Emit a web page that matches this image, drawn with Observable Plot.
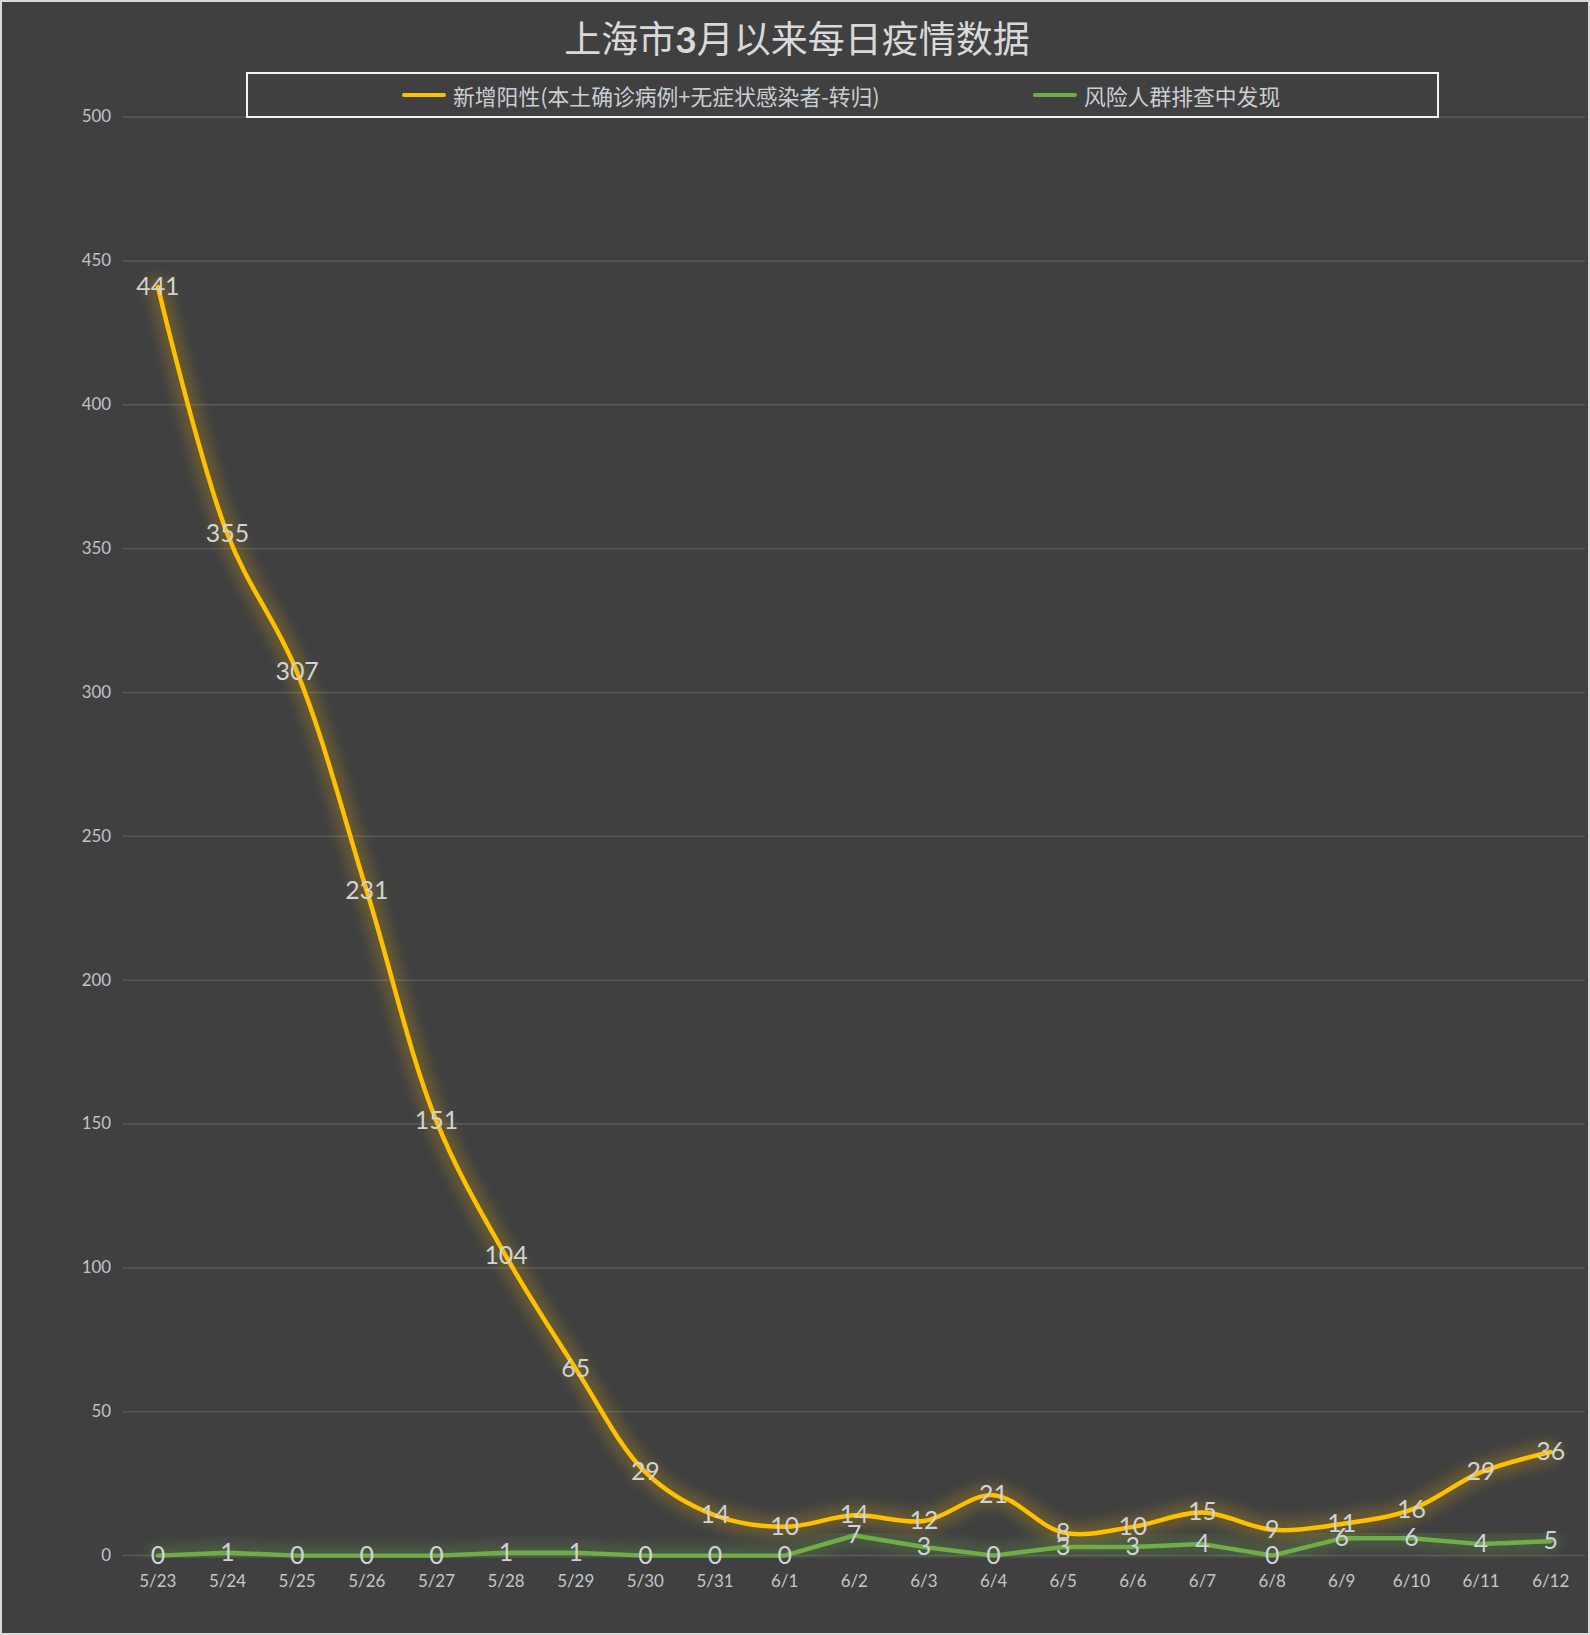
<!DOCTYPE html>
<html>
<head>
<meta charset="utf-8">
<script src="https://cdn.jsdelivr.net/npm/d3@7"></script>
<script src="https://cdn.jsdelivr.net/npm/@observablehq/plot@0.6"></script>
<style>
  html, body { margin: 0; padding: 0; background: #404040; }
  #frame { position: relative; width: 1590px; height: 1635px; box-sizing: border-box; border: 2px solid #d9d9d9; background: #404040; overflow: hidden; font-family: Lato, "Noto Sans CJK SC", sans-serif; }
  #chart { position: absolute; left: -2px; top: -2px; }
  #title { position: absolute; left: 0; width: 1590px; top: 8px; text-align: center; font-family: "Noto Sans CJK SC", sans-serif; font-weight: 400; font-size: 37px; color: #d9d9d9; line-height: 54px; }
  #title b { font-family: Lato, sans-serif; font-weight: 700; }
  #legend { position: absolute; left: 244px; top: 70px; width: 1189px; height: 42px; border: 2px solid #f2f2f2; }
  .item { position: absolute; top: 0; height: 42px; display: flex; align-items: center; font-family: "Noto Sans CJK SC", sans-serif; font-size: 21.8px; color: #c9ced4; }
  .swatch { display: inline-block; width: 44px; height: 4px; margin-right: 7px; border-radius: 2px; }
</style>
</head>
<body>
<div id="frame">
  <div id="chart"></div>
  <div id="title">上海市<b>3</b>月以来每日疫情数据</div>
  <div id="legend"></div>
</div>
<script>
const dates = ["5/23","5/24","5/25","5/26","5/27","5/28","5/29","5/30","5/31","6/1","6/2","6/3","6/4","6/5","6/6","6/7","6/8","6/9","6/10","6/11","6/12"];
const newPositive = [441,355,307,231,151,104,65,29,14,10,14,12,21,8,10,15,9,11,16,29,36];
const riskScreening = [0,1,0,0,0,1,1,0,0,0,7,3,0,3,3,4,0,6,6,4,5];
const yTicks = [0,50,100,150,200,250,300,350,400,450,500];
const seriesNames = ["新增阳性(本土确诊病例+无症状感染者-转归)", "风险人群排查中发现"];
const seriesColors = ["#FFC000", "#70AD47"];

const yellow = dates.map((d, i) => ({date: d, value: newPositive[i]}));
const green = dates.map((d, i) => ({date: d, value: riskScreening[i]}));

const chart = Plot.plot({
  width: 1594,
  height: 1639,
  marginTop: 117,
  marginBottom: 78,
  marginLeft: 123,
  marginRight: 3,
  style: {background: "transparent", fontFamily: "Lato, 'Noto Sans CJK SC', sans-serif", color: "#bfc3c8", overflow: "visible"},
  x: {type: "point", domain: dates, padding: 0.5, round: false, label: null},
  y: {domain: [0, 500], label: null},
  marks: [
    Plot.gridY(yTicks, {stroke: "#5a5a5a", strokeOpacity: 1, strokeWidth: 1.5}),
    Plot.axisY(yTicks, {tickSize: 0, tickPadding: 12, fontSize: 17, fill: "#bfc3c8", label: null}),
    Plot.axisX(dates, {tickSize: 0, tickPadding: 19, fontSize: 17, fill: "#c3c7cc", label: null}),
    Plot.line(yellow, {x: "date", y: "value", stroke: seriesColors[0], strokeWidth: 22, strokeOpacity: 0.2, curve: "catmull-rom", ariaDescription: "glow"}),
    Plot.line(green, {x: "date", y: "value", stroke: seriesColors[1], strokeWidth: 22, strokeOpacity: 0.22, ariaDescription: "glow"}),
    Plot.line(green, {x: "date", y: "value", stroke: seriesColors[1], strokeWidth: 4.5}),
    Plot.line(yellow, {x: "date", y: "value", stroke: seriesColors[0], strokeWidth: 4.5, curve: "catmull-rom"}),
    Plot.text(yellow, {x: "date", y: "value", text: "value", fontSize: 25, fill: "#cfd3d9"}),
    Plot.text(green, {x: "date", y: "value", text: "value", fontSize: 25, fill: "#cfd3d9"})
  ]
});

const svg = d3.select(chart);
svg.insert("defs", ":first-child")
  .append("filter").attr("id", "glowBlur").attr("x", "-10%").attr("y", "-10%").attr("width", "120%").attr("height", "120%")
  .append("feGaussianBlur").attr("stdDeviation", 6);
svg.selectAll('g[aria-description="glow"]').attr("filter", "url(#glowBlur)");

document.getElementById("chart").appendChild(chart);

const legend = document.getElementById("legend");
const positions = [154, 785];
seriesNames.forEach((name, i) => {
  const item = document.createElement("div");
  item.className = "item";
  item.style.left = positions[i] + "px";
  const sw = document.createElement("span");
  sw.className = "swatch";
  sw.style.background = seriesColors[i];
  item.appendChild(sw);
  const t = document.createElement("span");
  t.textContent = name;
  item.appendChild(t);
  legend.appendChild(item);
});
</script>
</body>
</html>
